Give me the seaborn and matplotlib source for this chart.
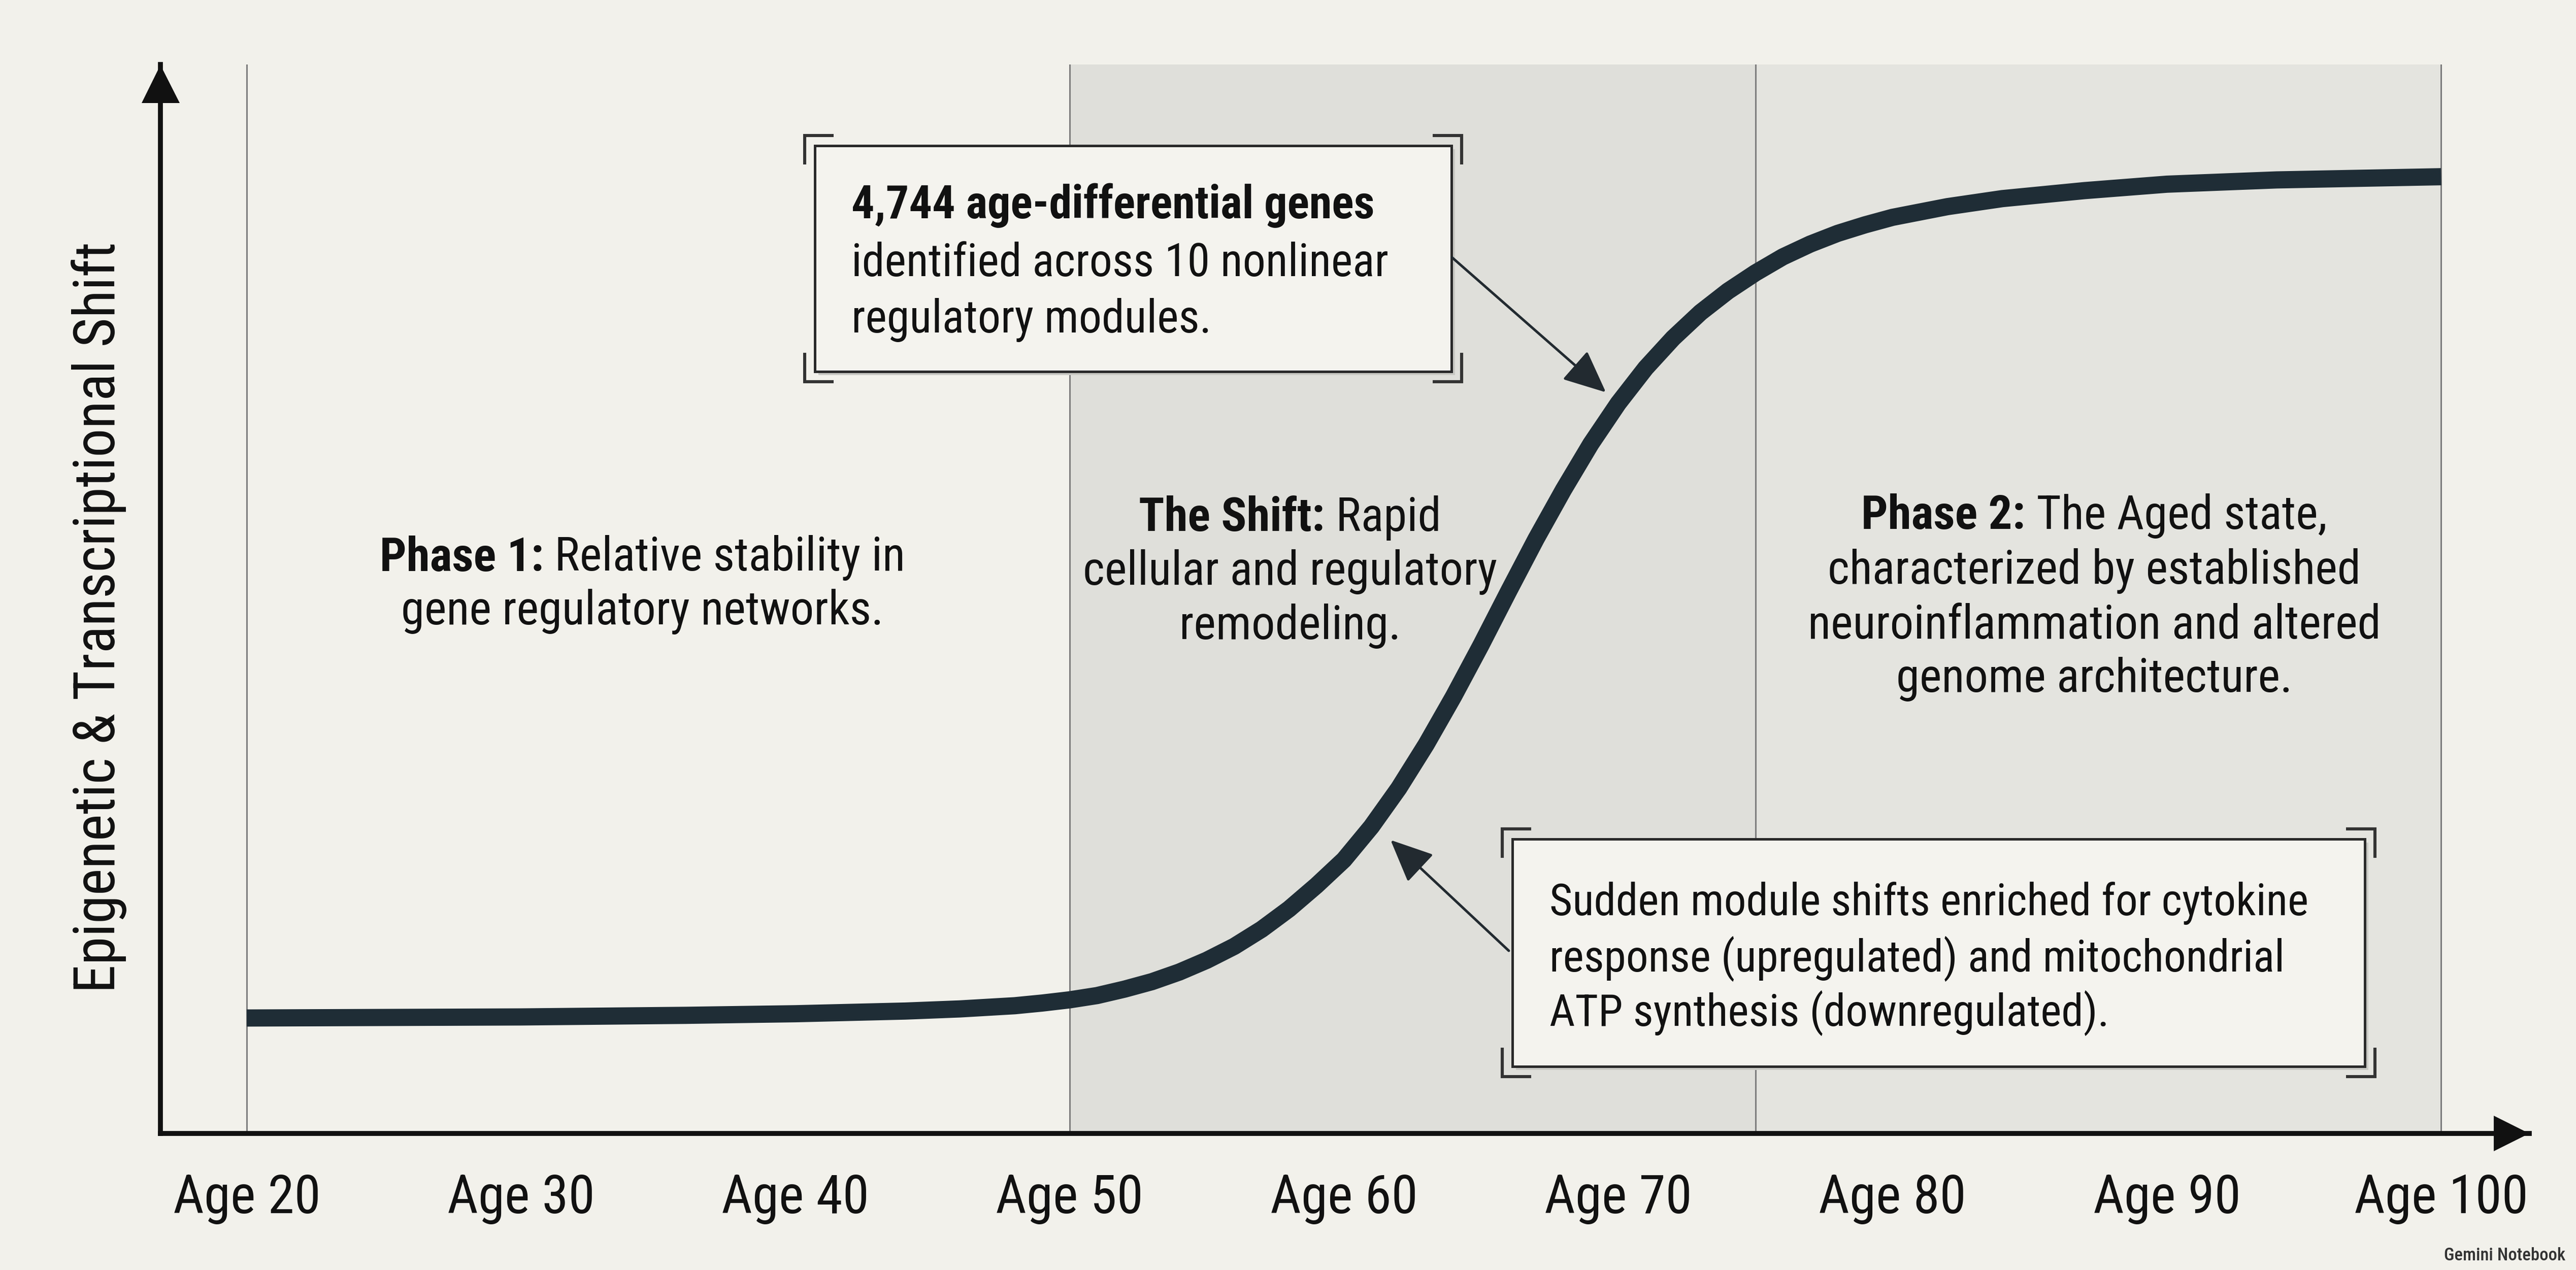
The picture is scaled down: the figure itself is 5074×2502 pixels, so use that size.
import numpy as np
import pandas as pd
import matplotlib
matplotlib.use("Agg")
import matplotlib.pyplot as plt
import matplotlib.patches as mpatches
import matplotlib.transforms as mtransforms
import seaborn as sns

# ---------------- data ----------------
ages = [20, 30, 36, 40, 44, 46, 48, 49, 50, 51, 52, 53, 54, 55, 56, 57, 58, 59, 60,
        61, 62, 63, 64, 65, 66, 67, 68, 69, 70, 71, 72, 73, 74, 75, 76, 77, 78,
        79, 80, 82, 84, 87, 90, 94, 100]
shift = [10.8, 10.9, 11.05, 11.2, 11.45, 11.65, 11.95, 12.2, 12.5, 12.9, 13.5, 14.2,
         15.1, 16.2, 17.5, 19.1, 21.0, 23.2, 25.6, 28.7, 32.3, 36.4, 40.9, 45.7,
         50.7, 55.6, 60.2, 64.5, 68.3, 71.6, 74.4, 76.8, 78.8, 80.5, 82.0, 83.2,
         84.2, 85.0, 85.7, 86.7, 87.45, 88.2, 88.8, 89.2, 89.5]
tick_ages = [20, 30, 40, 50, 60, 70, 80, 90, 100]
tick_labels = ["Age 20", "Age 30", "Age 40", "Age 50", "Age 60", "Age 70",
               "Age 80", "Age 90", "Age 100"]
phase_bounds = [20, 50, 75, 100]
y_label = "Epigenetic & Transcriptional Shift"

phase1_lines = [[("Phase 1:", "bold"), (" Relative stability in", "normal")],
                [("gene regulatory networks.", "normal")]]
shift_lines = [[("The Shift:", "bold"), (" Rapid", "normal")],
               [("cellular and regulatory", "normal")],
               [("remodeling.", "normal")]]
phase2_lines = [[("Phase 2:", "bold"), (" The Aged state,", "normal")],
                [("characterized by established", "normal")],
                [("neuroinflammation and altered", "normal")],
                [("genome architecture.", "normal")]]
box1_lines = [("4,744 age-differential genes", "bold"),
              ("identified across 10 nonlinear", "normal"),
              ("regulatory modules.", "normal")]
box2_lines = [("Sudden module shifts enriched for cytokine", "normal"),
              ("response (upregulated) and mitochondrial", "normal"),
              ("ATP synthesis (downregulated).", "normal")]

# ---------------- style ----------------
sns.set_theme(style="white")
FONT = ["Roboto Condensed", "Roboto", "DejaVu Sans"]
plt.rcParams["font.family"] = FONT
BG = "#f2f1eb"
INK = "#111111"
CURVE = "#1f2d36"

W, H, DPI = 5074, 2502, 200
fig = plt.figure(figsize=(W / DPI, H / DPI), dpi=DPI)
fig.patch.set_facecolor(BG)
ax = fig.add_axes([316 / W, (H - 2233) / H, (4982 - 316) / W, (2233 - 127) / H])
ax.set_facecolor(BG)
ax.set_xlim(16.854, 103.213)
ax.set_ylim(0, 100)

# phase shading
ax.axvspan(phase_bounds[1], phase_bounds[2], color="#dfdfda", lw=0, zorder=0)
ax.axvspan(phase_bounds[2], phase_bounds[3], color="#e4e4df", lw=0, zorder=0)
for b in phase_bounds:
    ax.axvline(b, color="#7d7d7d", lw=1.1, zorder=1)

# curve
df = pd.DataFrame({"age": ages, "shift": shift})
sns.lineplot(data=df, x="age", y="shift", ax=ax, color=CURVE, lw=12.2,
             legend=False, zorder=3, solid_capstyle="butt", solid_joinstyle="round")

# axes styling
for s in ["top", "right"]:
    ax.spines[s].set_visible(False)
for s in ["left", "bottom"]:
    ax.spines[s].set_linewidth(3.5)
    ax.spines[s].set_color(INK)
    ax.spines[s].set_capstyle("projecting")
ax.set_xticks(tick_ages)
ax.set_xticklabels(tick_labels)
ax.set_yticks([])
ax.tick_params(axis="x", length=19, width=1.5, color=INK, pad=9,
               labelsize=38, labelcolor=INK)
ax.set_xlabel("")
ax.set_ylabel(y_label, fontsize=40.5, color=INK)
ax.yaxis.set_label_coords(-0.0141, 0.483)

def arrowhead(marker, xa, ya, dx, dy, ms):
    tr = ax.transAxes + mtransforms.ScaledTranslation(dx / 72, dy / 72, fig.dpi_scale_trans)
    ax.plot([xa], [ya], marker=marker, ms=ms, color=INK, mew=0, transform=tr,
            clip_on=False, zorder=5)

arrowhead(">", 1, 0, -12.5, 0, 25)
arrowhead("^", 0, 1, 0, -13.5, 27)

# ---------------- callout boxes ----------------
px_x = (ax.transData.transform((1, 0))[0] - ax.transData.transform((0, 0))[0])
px_y = (ax.transData.transform((0, 1))[1] - ax.transData.transform((0, 0))[1])

def callout(x0, x1, y0, y1):
    sh_tr = ax.transData + mtransforms.ScaledTranslation(2.5 / 72, -2.5 / 72, fig.dpi_scale_trans)
    ax.add_patch(mpatches.Rectangle((x0, y0), x1 - x0, y1 - y0, transform=sh_tr,
                                    facecolor="#c9c9c4", edgecolor="none", zorder=4))
    ax.add_patch(mpatches.Rectangle((x0, y0), x1 - x0, y1 - y0, facecolor="#f4f3ee",
                                    edgecolor="#2a2a2a", lw=1.8, zorder=4.5))
    gx, gy = 20 / px_x, 20 / px_y
    lx, ly = 57 / px_x, 57 / px_y
    for cx, sx in [(x0 - gx, 1), (x1 + gx, -1)]:
        for cy, sy in [(y1 + gy, -1), (y0 - gy, 1)]:
            ax.plot([cx + sx * lx, cx, cx], [cy, cy, cy + sy * ly], color="#333333",
                    lw=2.2, solid_joinstyle="miter", solid_capstyle="butt", zorder=4.6)

callout(40.71, 63.92, 71.27, 92.40)
callout(66.14, 97.22, 6.27, 27.54)

box_kw = dict(family=FONT, color=INK, ha="left", va="baseline", zorder=6)
for (txt, wt), yb in zip(box1_lines, [85.61, 80.20, 74.93]):
    ax.text(42.04, yb, txt, fontweight=wt, fontsize=32.5, **box_kw)
for (txt, wt), yb in zip(box2_lines, [20.42, 15.15, 10.07]):
    ax.text(67.49, yb, txt, fontweight=wt, fontsize=31.5, **box_kw)

# pointer arrows
arr_kw = dict(arrowstyle="-|>,head_length=0.4,head_width=0.18", color="#222a30",
              lw=1.8, mutation_scale=65, shrinkA=0, shrinkB=0)
ax.annotate("", xy=(69.55, 69.33), xytext=(63.94, 81.95), arrowprops=arr_kw, zorder=5)
ax.annotate("", xy=(61.70, 27.45), xytext=(66.01, 17.09), arrowprops=arr_kw, zorder=5)

# ---------------- phase labels ----------------
renderer = fig.canvas.get_renderer()

def mixed_line(xc, yb, parts, size):
    t0 = ax.text(xc, yb, parts[0][0], fontsize=size, fontweight=parts[0][1],
                 ha="left", va="baseline", family=FONT, color=INK, zorder=6)
    items = [t0]
    prev = t0
    for s, w in parts[1:]:
        t = ax.annotate(s, xy=(1, 0), xycoords=prev, ha="left", va="bottom",
                        fontsize=size, fontweight=w, family=FONT, color=INK, zorder=6)
        items.append(t)
        prev = t
    left = items[0].get_window_extent(renderer).x0
    right = items[-1].get_window_extent(renderer).x1
    t0.set_x(xc - (right - left) / 2 / px_x)

for lines, xc, ybs in [(phase1_lines, 34.42, [52.61, 47.63]),
                       (shift_lines, 58.03, [56.36, 51.33, 46.25]),
                       (phase2_lines, 87.35, [56.55, 51.42, 46.30, 41.31])]:
    for parts, yb in zip(lines, ybs):
        mixed_line(xc, yb, parts, 33.5)

fig.text(5053 / W, (H - 2483) / H, "Gemini Notebook", ha="right", va="baseline",
         fontsize=12.5, fontweight="medium", color="#333333", family=FONT)

fig.savefig("out.png", dpi=DPI, facecolor=BG)
